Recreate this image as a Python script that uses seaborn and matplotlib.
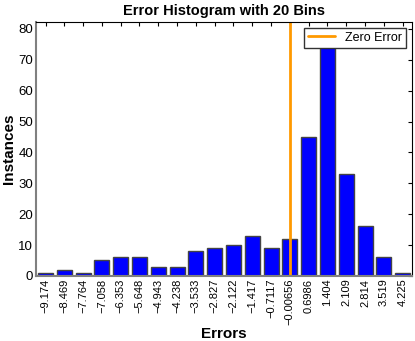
import matplotlib
matplotlib.use("Agg")
import matplotlib.pyplot as plt
import numpy as np
import pandas as pd
import seaborn as sns

# bin centers and counts
bin_centers = [-9.174, -8.469, -7.764, -7.058, -6.353, -5.648, -4.943, -4.238,
               -3.533, -2.827, -2.122, -1.417, -0.7117, -0.00656, 0.6986, 1.404,
               2.109, 2.814, 3.519, 4.225]
tick_labels = ["\u22129.174", "\u22128.469", "\u22127.764", "\u22127.058", "\u22126.353",
               "\u22125.648", "\u22124.943", "\u22124.238", "\u22123.533", "\u22122.827",
               "\u22122.122", "\u22121.417", "\u22120.7117", "\u22120.00656", "0.6986",
               "1.404", "2.109", "2.814", "3.519", "4.225"]
counts = [1, 2, 1, 5, 6, 6, 3, 3, 8, 9, 10, 13, 9, 12, 45, 78, 33, 16, 6, 1]
zero_error = 0.0

df = pd.DataFrame({"center": bin_centers, "count": counts})

sns.set_theme(style="white")
plt.rcParams["font.family"] = ["Liberation Sans", "DejaVu Sans"]
plt.rcParams.update({"text.color": "black", "axes.labelcolor": "black",
                     "xtick.color": "black", "ytick.color": "black"})

fig = plt.figure(figsize=(4.15, 3.41), dpi=100)
ax = fig.add_axes([0.087, 0.191, 0.906, 0.745])

sns.barplot(data=df, x="center", y="count", native_scale=True, width=0.8,
            color="#0000ff", saturation=1, edgecolor="#444444", linewidth=1.0, ax=ax)
ax.axvline(zero_error, color="#ff9900", linewidth=2, label="Zero Error")

step = bin_centers[1] - bin_centers[0]
ax.set_xlim(bin_centers[0] - step / 2, bin_centers[-1] + step / 2)
ax.set_ylim(0, 82.3)
ax.set_xticks(bin_centers)
ax.set_xticklabels(tick_labels, rotation=90, fontsize=8)
ax.set_yticks(range(0, 81, 10))
ax.tick_params(axis="y", labelsize=9.5)
ax.tick_params(direction="in", length=3, width=0.8, color="black",
               top=True, right=True, bottom=False, pad=2)

for side in ["top", "right"]:
    ax.spines[side].set_color("black")
    ax.spines[side].set_linewidth(0.8)
for side in ["left", "bottom"]:
    ax.spines[side].set_color("#808080")
    ax.spines[side].set_linewidth(1.5)

ax.set_title("Error Histogram with 20 Bins", fontsize=10.5, fontweight="bold", pad=5)
ax.set_xlabel("Errors", fontsize=11, fontweight="bold", labelpad=1)
ax.set_ylabel("Instances", fontsize=11, fontweight="bold", labelpad=2)

leg = ax.legend(loc="upper right", fontsize=9, fancybox=False, framealpha=1,
                handlelength=2.2, borderpad=0.3, borderaxespad=0.5)
leg.get_frame().set_edgecolor("#333333")
leg.get_frame().set_linewidth(1.0)
leg.set_zorder(10)

fig.savefig("out.png", dpi=100)
